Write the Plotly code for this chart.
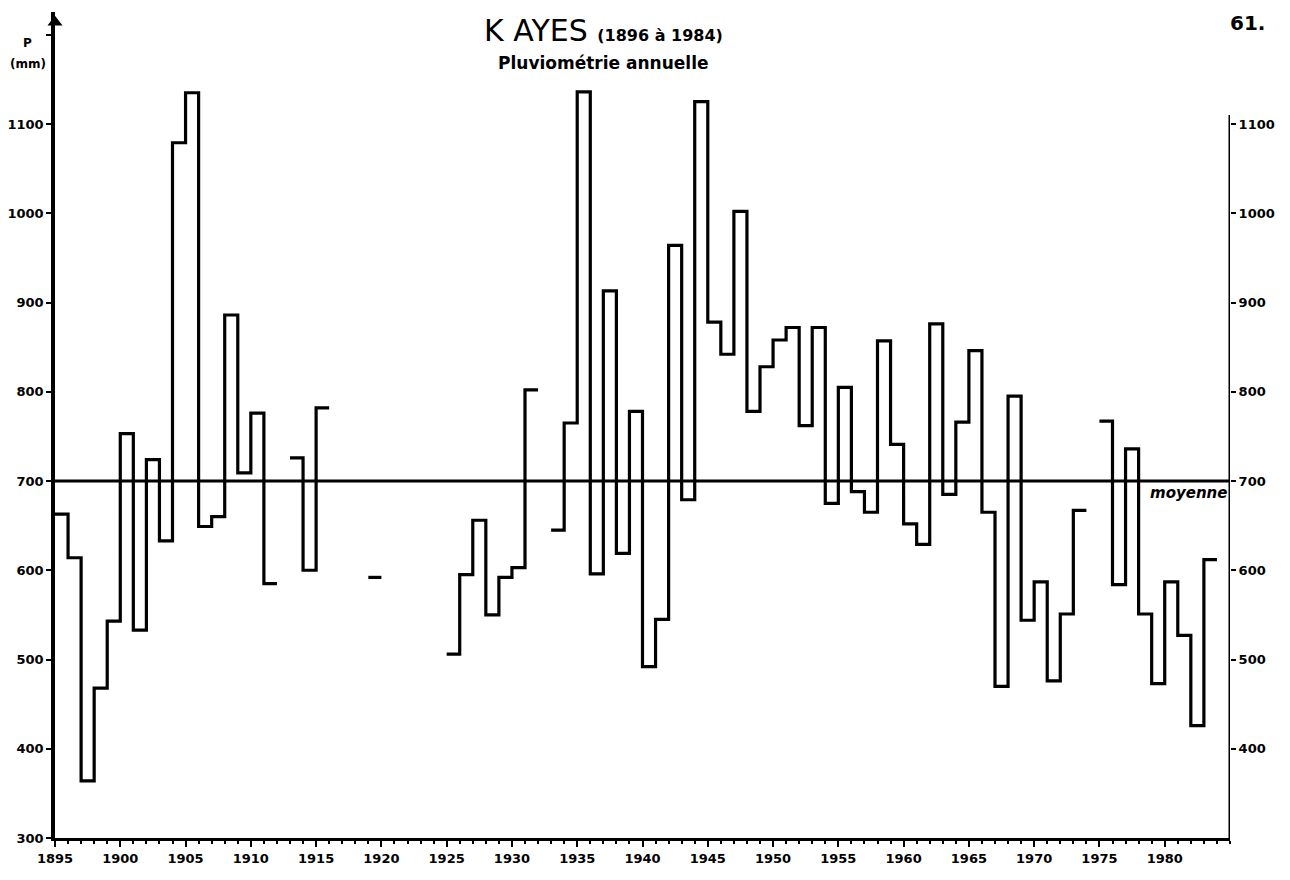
import plotly.graph_objects as go

# ---------------- data ----------------
years = list(range(1896, 1985))
rainfall = [
    663, 614, 364, 468, 543, 753, 533, 724, 633, 1079,    # 1896-1905
    1135, 649, 660, 886, 709, 776, 585, None, 726, 600,   # 1906-1915
    782, None, None, None, 592, None, None, None, None, None,  # 1916-1925
    506, 595, 656, 550, 592, 603, 802, None, 645, 765,    # 1926-1935
    1136, 596, 913, 619, 778, 492, 545, 964, 679, 1125,   # 1936-1945
    878, 842, 1002, 778, 828, 858, 872, 762, 872, 675,    # 1946-1955
    805, 688, 665, 857, 741, 652, 629, 876, 685, 766,     # 1956-1965
    846, 665, 470, 795, 544, 587, 476, 551, 667, None,    # 1966-1975
    767, 584, 736, 551, 473, 587, 527, 426, 612           # 1976-1984
]
assert len(rainfall) == len(years)

moyenne = 700
x_ticks = list(range(1895, 1985, 5))
x_ticklabels = [str(v) for v in x_ticks]
y_left_ticks = [300, 400, 500, 600, 700, 800, 900, 1000, 1100, 1200]
y_left_labels = ["300", "400", "500", "600", "700", "800", "900", "1000", "1100", ""]
y_right_ticks = [400, 500, 600, 700, 800, 900, 1000, 1100]
y_right_labels = ["400", "500", "600", "700", "800", "900", "1000", "1100"]

X0, X1 = 1895, 1985
Y0, Y1 = 300, 1225.5

# step outline built from the data (each year spans [year-1, year])
sx, sy = [], []
for yr, v in zip(years, rainfall):
    if v is None:
        if sx and sx[-1] is not None:
            sx.append(None); sy.append(None)
        continue
    sx += [yr - 1, yr]
    sy += [v, v]

FONT = "DejaVu Sans"
fig = go.Figure()

fig.add_trace(go.Scatter(x=sx, y=sy, mode="lines", connectgaps=False,
                         line=dict(color="black", width=3.2, shape="linear"),
                         hoverinfo="skip", showlegend=False))

fig.add_trace(go.Scatter(x=[X0, X1], y=[moyenne, moyenne], mode="lines",
                         line=dict(color="black", width=3), cliponaxis=False,
                         hoverinfo="skip", showlegend=False))

# right axis line (on secondary axis)
fig.add_trace(go.Scatter(x=[X1, X1], y=[Y0, 1110], mode="lines", yaxis="y2",
                         line=dict(color="black", width=3), cliponaxis=False,
                         hoverinfo="skip", showlegend=False))

# arrow head on top of left axis
fig.add_trace(go.Scatter(x=[X0], y=[1214], mode="markers", cliponaxis=False,
                         marker=dict(symbol="triangle-up", size=13, color="black"),
                         hoverinfo="skip", showlegend=False))

tickfont = dict(family=FONT, size=13, color="black", weight="bold")

# page body has an 8px default margin: figure is sized/offset to compensate
fig.update_layout(
    width=1282, height=872,
    margin=dict(l=47, r=60, t=4, b=42, autoexpand=False),
    paper_bgcolor="white", plot_bgcolor="white",
    xaxis=dict(range=[X0, X1], showgrid=False, zeroline=False, automargin=False,
               showline=True, linecolor="black", linewidth=3,
               tickmode="array", tickvals=x_ticks, ticktext=x_ticklabels,
               ticks="outside", ticklen=6, tickwidth=2, tickcolor="black",
               minor=dict(dtick=1, tick0=1895, ticks="outside", ticklen=3,
                          tickwidth=1.5, tickcolor="black"),
               tickfont=tickfont),
    yaxis=dict(range=[Y0, Y1], showgrid=False, zeroline=False, automargin=False,
               showline=True, linecolor="black", linewidth=3.5,
               tickmode="array", tickvals=y_left_ticks, ticktext=y_left_labels,
               ticks="outside", ticklen=5, tickwidth=2, tickcolor="black",
               tickfont=tickfont),
    yaxis2=dict(range=[Y0, Y1], overlaying="y", side="right", anchor="x",
                automargin=False,
                showgrid=False, zeroline=False, showline=False,
                tickmode="array", tickvals=y_right_ticks, ticktext=y_right_labels,
                ticks="outside", ticklen=5, tickwidth=2, tickcolor="black",
                tickfont=tickfont),
)


# screen-pixel helpers (plot area spans x 55..1230, y 12..838 on screen)
def px(xpix):
    return (xpix - 55) / 1175


def py(ypix):
    return (838 - ypix) / 826


annotations = [
    dict(text="K AYES <span style='font-size:16px'><b>(1896 à 1984)</b></span>",
         xref="paper", yref="paper", x=px(482), y=py(30), xanchor="left", yanchor="middle",
         showarrow=False, font=dict(family=FONT, size=30, color="black")),
    dict(text="<b>Pluviométrie annuelle</b>",
         xref="paper", yref="paper", x=px(496), y=py(63), xanchor="left", yanchor="middle",
         showarrow=False, font=dict(family=FONT, size=17, color="black")),
    dict(text="<b>P</b>", xref="paper", yref="paper", x=px(27), y=py(43),
         xanchor="center", yanchor="middle", showarrow=False,
         font=dict(family=FONT, size=12, color="black")),
    dict(text="<b>(mm)</b>", xref="paper", yref="paper", x=px(28), y=py(64),
         xanchor="center", yanchor="middle", showarrow=False,
         font=dict(family=FONT, size=12, color="black")),
    dict(text="<b><i>moyenne</i></b>", xref="x", yref="y", x=1981.8, y=moyenne,
         xanchor="center", yanchor="top", yshift=-1, showarrow=False,
         font=dict(family=FONT, size=15, color="black")),
    dict(text="<b>61.</b>", xref="paper", yref="paper", x=px(1228), y=py(9),
         xanchor="left", yanchor="top", showarrow=False,
         font=dict(family=FONT, size=20, color="black")),
]
fig.update_layout(annotations=annotations)

fig.write_html("out.html", config={"displayModeBar": False})
